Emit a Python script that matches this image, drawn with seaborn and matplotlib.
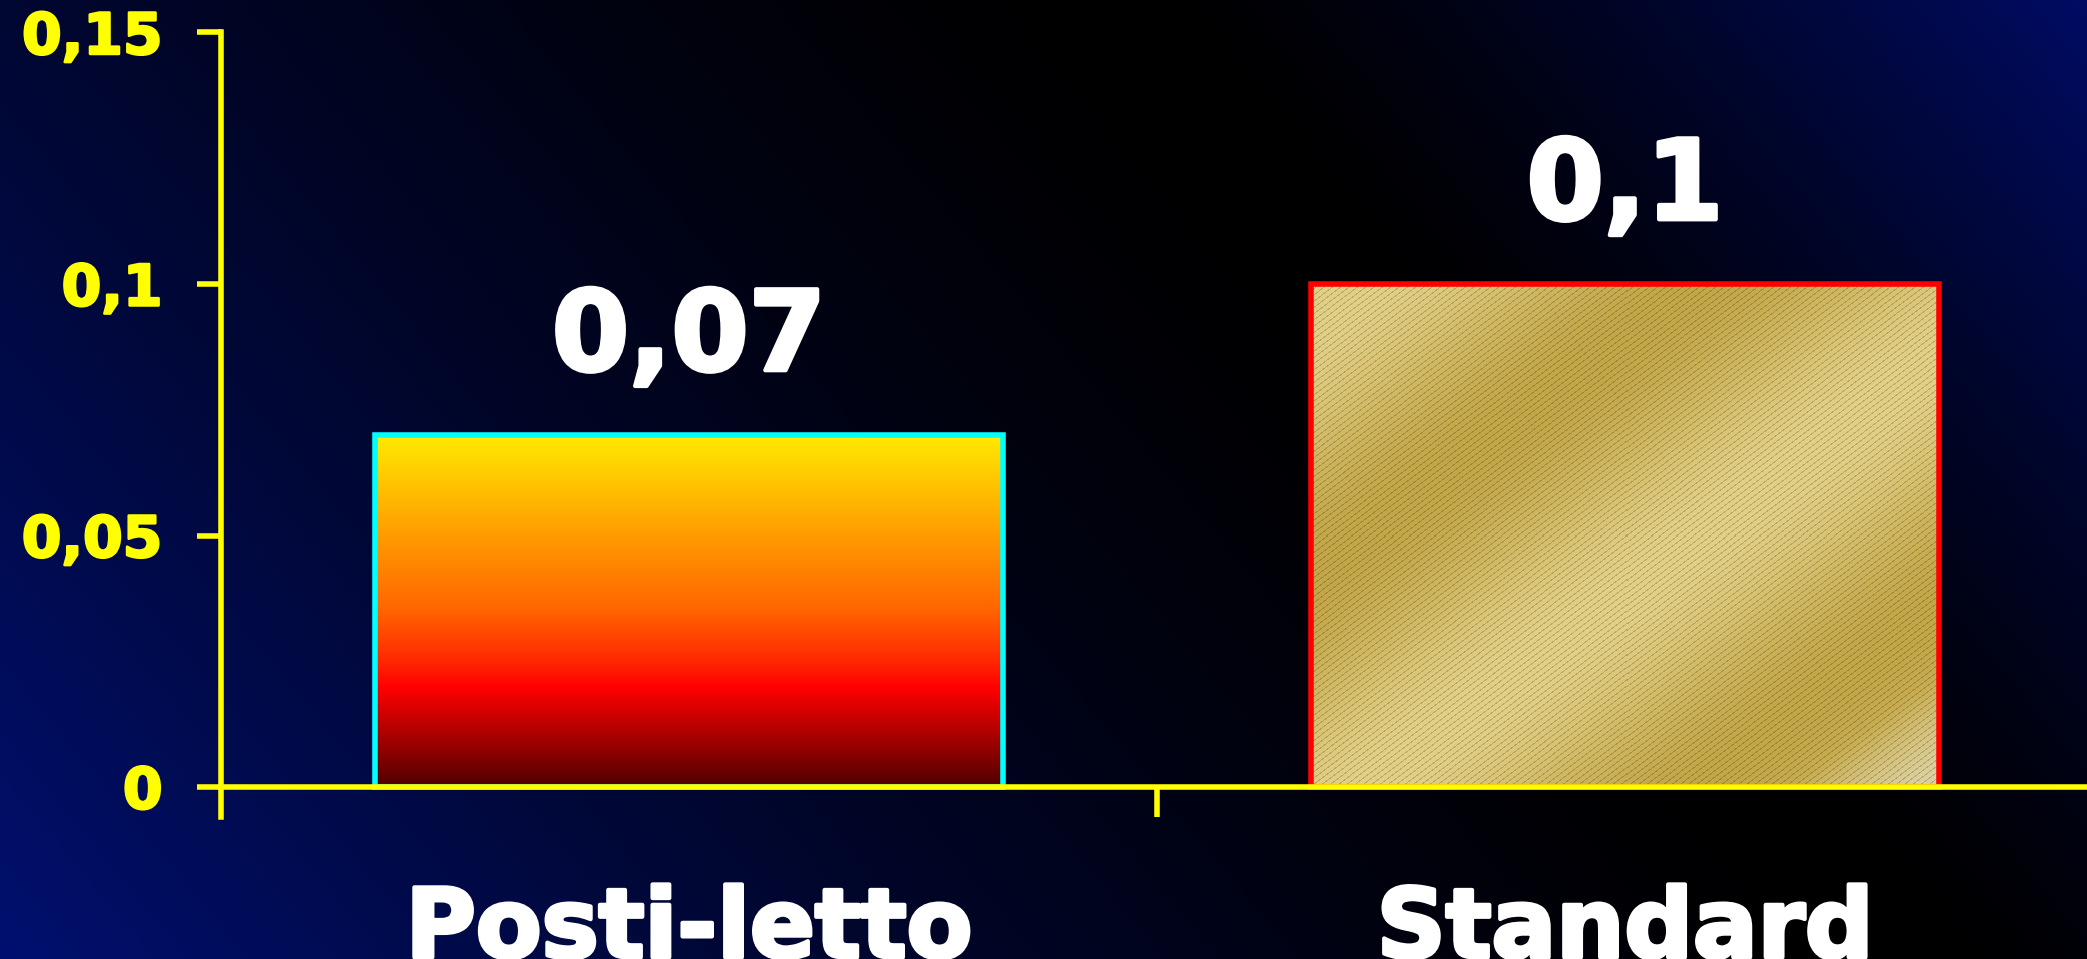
import numpy as np
import pandas as pd
import matplotlib
matplotlib.use("Agg")
import matplotlib.pyplot as plt
import matplotlib.patheffects as pe
import seaborn as sns
from matplotlib.colors import LinearSegmentedColormap, to_rgb

# ---------------- data ----------------
categories = ["Posti-letto", "Standard"]
values = [0.07, 0.1]
value_labels = ["0,07", "0,1"]
y_ticks = [0, 0.05, 0.1, 0.15]
y_tick_labels = ["0", "0,05", "0,1", "0,15"]
edge_colors = ["#00FFFF", "#FF0000"]

sns.set_theme(style="white")
plt.rcParams["font.family"] = ["DejaVu Sans"]

W, H = 2087, 959
DPI = 100
fig = plt.figure(figsize=(W / DPI, H / DPI), dpi=DPI)
fig.patch.set_facecolor("black")

# ---------------- background gradient ----------------
bg = fig.add_axes([0, 0, 1, 1])
bg.set_zorder(0)
bg.axis("off")
yy, xx = np.mgrid[0:H:3, 0:W:3].astype(float)
d = ((xx - 1131) * 959 - yy * 799) / 1248.0
neg = np.clip(-d / 1483.0, 0, 1) ** 1.5
pos = np.clip(d / 735.0, 0, 1) ** 1.4
c_neg = np.array([0, 16, 112]) / 255
c_pos = np.array([0, 12, 100]) / 255
bg_img = np.clip(neg[..., None] * c_neg + pos[..., None] * c_pos, 0, 1)
bg.imshow(bg_img, extent=(0, W, H, 0), aspect="auto", interpolation="bilinear")
bg.set_xlim(0, W)
bg.set_ylim(H, 0)

# ---------------- main axes ----------------
ymin, ymax = -0.006, 0.15
px_per_unit = 251.5 / 0.05
y0_px = 787.0
bottom_px = y0_px - ymin * px_per_unit
top_px = y0_px - ymax * px_per_unit
ax = fig.add_axes([221 / W, 1 - bottom_px / H, (2093 - 221) / W, (bottom_px - top_px) / H])
ax.set_zorder(1)
ax.patch.set_alpha(0)

df = pd.DataFrame({"categoria": categories, "valore": values})
sns.barplot(data=df, x="categoria", y="valore", ax=ax, width=0.671,
            errorbar=None, color="white")
ax.set_xlim(-0.5, 1.5)
ax.set_ylim(ymin, ymax)

yellow = "#FFFF00"

# bar fills
grad_cmap = LinearSegmentedColormap.from_list(
    "fire",
    [(0.0, "#FFEA00"), (0.27, "#FFA000"), (0.5, "#FF6400"), (0.64, "#FF2A00"),
     (0.72, "#FF0000"), (0.86, "#A80000"), (1.0, "#500000")])

patches = list(ax.patches)
for i, p in enumerate(patches):
    p.set_facecolor("none")
    p.set_edgecolor(edge_colors[i])
    p.set_linewidth(4.0)
    p.set_zorder(1.5)
    x0, w, h = p.get_x(), p.get_width(), p.get_height()
    if i == 0:
        arr = grad_cmap(np.linspace(0, 1, 400))[:, None, :3]
        ax.imshow(arr, extent=(x0, x0 + w, 0, h), aspect="auto", origin="upper",
                  interpolation="bilinear", zorder=1.2)
    else:
        (dx0, dy0) = ax.transData.transform((x0, 0))
        (dx1, dy1) = ax.transData.transform((x0 + w, h))
        ncols, nrows = int(round(dx1 - dx0)), int(round(dy1 - dy0))
        Y, X = np.mgrid[0:nrows, 0:ncols].astype(float)
        ang = np.deg2rad(37)
        s = X * np.sin(ang) + Y * np.cos(ang)
        light = np.array(to_rgb("#E2D085"))
        dark = np.array(to_rgb("#C3A647"))
        pale = np.array(to_rgb("#DDD3A6"))
        m = (1 + np.cos(2 * np.pi * (s - 234) / 404.0)) / 2
        img = light * (1 - m[..., None]) + dark * m[..., None]
        fade = np.clip((s - 690) / 90.0, 0, 1)[..., None]
        img = img * (1 - fade) + pale * fade
        # fine diagonal hatch lines
        lines = (np.mod(s, 5.0) < 1.0)
        img = img * np.where(lines, 0.82, 1.0)[..., None]
        ax.imshow(np.clip(img, 0, 1), extent=(x0, x0 + w, 0, h), aspect="auto",
                  origin="upper", interpolation="nearest", zorder=1.2)

ax.set_xlim(-0.5, 1.5)
ax.set_ylim(ymin, ymax)

# spines
sns.despine(ax=ax, top=True, right=True)
ax.spines["bottom"].set_position(("data", 0))
for s_name in ["left", "bottom"]:
    ax.spines[s_name].set_color(yellow)
    ax.spines[s_name].set_linewidth(4)
    ax.spines[s_name].set_zorder(3)

# ticks
ax.set_yticks(y_ticks, labels=y_tick_labels)
ax.tick_params(axis="y", which="major", direction="out", length=17, width=4,
               color=yellow, labelcolor=yellow, labelsize=41, pad=25, left=True)
for t in ax.get_yticklabels():
    t.set_fontweight("bold")
    t.set_path_effects([pe.withStroke(linewidth=1.8, foreground=yellow)])

ax.set_xticks([0.5], labels=[""])
ax.set_xticks([0, 1], labels=categories, minor=True)
ax.tick_params(axis="x", which="major", direction="out", length=21.6, width=4,
               color=yellow, bottom=True)
ax.tick_params(axis="x", which="minor", length=0, pad=70, labelsize=69,
               labelcolor="white", bottom=True)
for t in ax.get_xticklabels(minor=True):
    t.set_fontweight("bold")
    t.set_path_effects([pe.withStroke(linewidth=3.0, foreground="white")])
ax.set_xlabel("")
ax.set_ylabel("")
ax.grid(False)

# value labels
texts = ax.bar_label(ax.containers[0], labels=value_labels, padding=30, fontsize=80,
                     fontweight="bold", color="white")
for t in texts:
    t.set_path_effects([pe.withStroke(linewidth=3.0, foreground="white")])

fig.savefig("out.png", dpi=DPI, facecolor=fig.get_facecolor())
